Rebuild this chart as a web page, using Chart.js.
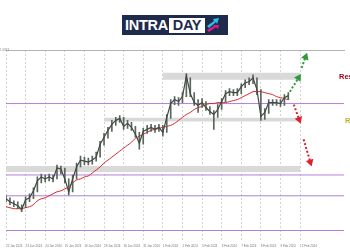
<!DOCTYPE html>
<html>
<head>
<meta charset="utf-8">
<script src="https://cdn.jsdelivr.net/npm/chart.js@4.4.1/dist/chart.umd.min.js"></script>
<style>
    html, body { margin: 0; padding: 0; background: #fff; }
    #wrap { position: relative; width: 350px; height: 250px; overflow: hidden; font-family: "Liberation Sans", Arial, sans-serif; }
    #myChart { position: absolute; left: 0; top: 0; }
    #logo { position: absolute; left: 122px; top: 15px; width: 106px; height: 20px; background: #1f2b4d;
            display: flex; align-items: center; padding-left: 3px; box-sizing: border-box; }
    #logo .intra { color: #fff; font-weight: bold; font-size: 14.5px; letter-spacing: -0.3px; }
    #logo .day { background: #fff; color: #1f2b4d; font-weight: bold; font-size: 14.5px; line-height: 15px;
                 padding: 0 4px; margin-left: 1px; letter-spacing: -0.3px; }
    #logo svg { margin-left: 1px; }
    .note { position: absolute; white-space: nowrap; font-weight: bold; font-size: 7.5px; }
    #price { position: absolute; left: 0; top: 48px; font-size: 3px; color: #888; }
</style>
</head>
<body>
<div id="wrap">
    <canvas id="myChart" width="350" height="250"></canvas>
    <div id="logo">
        <span class="intra">INTRA</span><span class="day">DAY</span>
        <svg width="14" height="16" viewBox="0 0 14 16">
            <polygon points="1,9 8,4 7,2 13,1 11,7 10,5 3,11" fill="#27c3e6"/>
            <polygon points="3,15 10,10 12,12 13,8 7,8 8,9 1,13" fill="#e3198f"/>
        </svg>
    </div>
    <div id="price">1.0843</div>
    <div class="note" style="left:339px; top:72px; color:#a3001b;">Resistance</div>
    <div class="note" style="left:345px; top:116px; color:#bdb21c;">Range</div>
</div>
<script>
// bar index on the x axis (4-hour bars), prices on the y axis
const closes = [1.07680, 1.07665, 1.07655, 1.07645, 1.07625, 1.07675, 1.07685, 1.07720, 1.07770, 1.07790,
                1.07780, 1.07790, 1.07780, 1.07835, 1.07830, 1.07780, 1.07715, 1.07780, 1.07840, 1.07875,
                1.07870, 1.07865, 1.07875, 1.07890, 1.07955, 1.07990, 1.08025, 1.08055, 1.08075, 1.08085,
                1.08045, 1.08060, 1.08040, 1.08005, 1.07960, 1.08020, 1.08030, 1.08040, 1.08030, 1.08040,
                1.08015, 1.08090, 1.08160, 1.08180, 1.08170, 1.08195, 1.08300, 1.08210, 1.08165, 1.08150,
                1.08165, 1.08140, 1.08120, 1.08105, 1.08130, 1.08170, 1.08210, 1.08220, 1.08215, 1.08215,
                1.08245, 1.08265, 1.08270, 1.08290, 1.08230, 1.08095, 1.08115, 1.08165, 1.08165, 1.08165,
                1.08160, 1.08190, 1.08200];
const highs = [1.07695, 1.07685, 1.07670, 1.07665, 1.07650, 1.07690, 1.07705, 1.07735, 1.07790, 1.07805,
               1.07800, 1.07805, 1.07800, 1.07850, 1.07845, 1.07835, 1.07780, 1.07800, 1.07860, 1.07895,
               1.07890, 1.07885, 1.07895, 1.07915, 1.07970, 1.08010, 1.08040, 1.08075, 1.08090, 1.08100,
               1.08090, 1.08075, 1.08065, 1.08045, 1.08015, 1.08035, 1.08050, 1.08055, 1.08050, 1.08055,
               1.08050, 1.08105, 1.08180, 1.08195, 1.08190, 1.08215, 1.08310, 1.08290, 1.08215, 1.08180,
               1.08185, 1.08170, 1.08145, 1.08125, 1.08155, 1.08185, 1.08225, 1.08235, 1.08230, 1.08235,
               1.08260, 1.08280, 1.08290, 1.08305, 1.08290, 1.08230, 1.08135, 1.08180, 1.08180, 1.08180,
               1.08180, 1.08205, 1.08215];
const lows = [1.07665, 1.07650, 1.07640, 1.07630, 1.07615, 1.07635, 1.07665, 1.07680, 1.07715, 1.07760,
              1.07765, 1.07770, 1.07765, 1.07780, 1.07805, 1.07760, 1.07700, 1.07715, 1.07780, 1.07840,
              1.07850, 1.07850, 1.07855, 1.07870, 1.07890, 1.07950, 1.07985, 1.08020, 1.08050, 1.08065,
              1.08030, 1.08035, 1.08025, 1.07990, 1.07930, 1.07955, 1.08010, 1.08020, 1.08015, 1.08020,
              1.07995, 1.08015, 1.08085, 1.08155, 1.08150, 1.08165, 1.08195, 1.08195, 1.08150, 1.08115,
              1.08140, 1.08125, 1.08105, 1.08030, 1.08090, 1.08130, 1.08170, 1.08200, 1.08200, 1.08200,
              1.08210, 1.08240, 1.08255, 1.08260, 1.08205, 1.08075, 1.08080, 1.08110, 1.08150, 1.08150,
              1.08145, 1.08150, 1.08180];
// moving average (red)
const movingAvg = [1.07640, 1.07635, 1.07630, 1.07630, 1.07630, 1.07635, 1.07640, 1.07650, 1.07670, 1.07680,
                   1.07685, 1.07695, 1.07705, 1.07715, 1.07720, 1.07730, 1.07740, 1.07760, 1.07775, 1.07780,
                   1.07790, 1.07795, 1.07810, 1.07825, 1.07840, 1.07860, 1.07875, 1.07890, 1.07905, 1.07920,
                   1.07935, 1.07950, 1.07965, 1.07985, 1.07995, 1.08005, 1.08015, 1.08025, 1.08030, 1.08035,
                   1.08040, 1.08045, 1.08050, 1.08060, 1.08075, 1.08090, 1.08105, 1.08115, 1.08130, 1.08140,
                   1.08145, 1.08155, 1.08160, 1.08160, 1.08165, 1.08165, 1.08165, 1.08170, 1.08175, 1.08180,
                   1.08190, 1.08200, 1.08210, 1.08220, 1.08220, 1.08220, 1.08215, 1.08210, 1.08205, 1.08195,
                   1.08190, 1.08185, 1.08180];

// horizontal levels (purple)
const levels = [1.08160, 1.07800, 1.07695, 1.07520];
// grey zones: [from bar, to bar, bottom price, top price]
const zones = [[40, 75, 1.08280, 1.08315],
               [25, 75, 1.08070, 1.08088],
               [0, 75, 1.07815, 1.07845]];
// dashed projection arrows: [x0, y0, x1, y1]
const upArrows = [[72.4, 1.08220, 74.6, 1.08290], [75.4, 1.08340, 76.4, 1.08395]];
const downArrows = [[73.4, 1.08155, 74.75, 1.08080], [75.9, 1.07980, 77.6, 1.07865]];

// x axis ticks (vertical grid) and their date labels
const tickPos = [0, 5, 10, 15, 20, 25, 30, 35, 40, 45, 50, 55, 60, 65, 70, 75];
const tickLabels = ['22 Jan 2024', '23 Jan 2024', '24 Jan 2024', '25 Jan 2024', '26 Jan 2024', '29 Jan 2024',
                    '30 Jan 2024', '31 Jan 2024', '1 Feb 2024', '2 Feb 2024', '5 Feb 2024', '6 Feb 2024',
                    '7 Feb 2024', '8 Feb 2024', '9 Feb 2024', '12 Feb 2024'];
const topPrice = 1.0843;
const bottomPrice = 1.0746;
const xMax = 86.2;

function createChart() {
    const ctx = document.getElementById('myChart');
    const datasets = [];

    // arrows on top
    upArrows.concat(downArrows).forEach((a, k) => {
        const up = k < upArrows.length;
        const col = up ? '#2e9b3a' : '#e0202a';
        const angle = Math.atan2(a[2] - a[0], (a[3] - a[1]) * 20000 / 4.06) * 180 / Math.PI;
        datasets.push({
            type: 'line',
            data: [{x: a[0], y: a[1]}, {x: a[2], y: a[3]}],
            borderColor: col,
            backgroundColor: col,
            borderWidth: 2,
            borderDash: [2, 2],
            pointRadius: [0, 2.5],
            pointStyle: 'triangle',
            pointRotation: [0, angle],
            order: 0
        });
    });

    // price line and wicks
    datasets.push({
        type: 'line',
        data: closes.map((c, i) => ({x: i, y: c})),
        borderColor: '#3f4a40',
        borderWidth: 1.2,
        pointRadius: 0,
        tension: 0,
        order: 1
    });
    datasets.push({
        type: 'bar',
        data: closes.map((c, i) => ({x: i, y: [lows[i], highs[i]]})),
        backgroundColor: '#5a655b',
        barThickness: 1,
        grouped: false,
        order: 2
    });

    // moving average
    datasets.push({
        type: 'line',
        data: movingAvg.map((v, i) => ({x: i, y: v})),
        borderColor: '#d8262c',
        borderWidth: 1,
        pointRadius: 0,
        tension: 0.3,
        order: 3
    });

    // purple levels across the whole width
    levels.forEach(lv => {
        datasets.push({
            type: 'line',
            data: [{x: 0, y: lv}, {x: xMax, y: lv}],
            borderColor: '#b280da',
            borderWidth: 1,
            pointRadius: 0,
            order: 4
        });
    });

    // grey zones: top edge then bottom edge filled to it
    zones.forEach(z => {
        datasets.push({
            type: 'line',
            data: [{x: z[0], y: z[3]}, {x: z[1], y: z[3]}],
            borderWidth: 0,
            pointRadius: 0,
            order: 5
        });
        datasets.push({
            type: 'line',
            data: [{x: z[0], y: z[2]}, {x: z[1], y: z[2]}],
            borderWidth: 0,
            pointRadius: 0,
            fill: '-1',
            backgroundColor: '#d9d9d9',
            order: 5
        });
    });

    new Chart(ctx, {
        type: 'line',
        data: { datasets: datasets },
        options: {
            responsive: false,
            animation: false,
            layout: { padding: { top: 42, left: 0, right: 0, bottom: 0 } },
            scales: {
                x: {
                    type: 'linear',
                    min: 0,
                    max: xMax,
                    offset: false,
                    afterBuildTicks: axis => { axis.ticks = tickPos.map(v => ({ value: v })); },
                    grid: { color: '#d2d2d2', drawTicks: false, offset: false },
                    border: { display: false, dash: [2, 2] },
                    ticks: {
                        callback: (val, index) => tickLabels[index],
                        align: 'start',
                        maxRotation: 0,
                        autoSkip: false,
                        padding: 2,
                        color: '#777',
                        font: { size: 3 }
                    }
                },
                xTop: {
                    type: 'linear',
                    position: 'top',
                    min: 0,
                    max: xMax,
                    grid: { display: false },
                    ticks: { display: false },
                    border: { display: true, color: '#b3b3b3' }
                },
                y: {
                    display: false,
                    min: bottomPrice,
                    max: topPrice
                }
            },
            plugins: {
                legend: { display: false },
                tooltip: { enabled: false }
            }
        }
    });
}

createChart();
</script>
</body>
</html>
